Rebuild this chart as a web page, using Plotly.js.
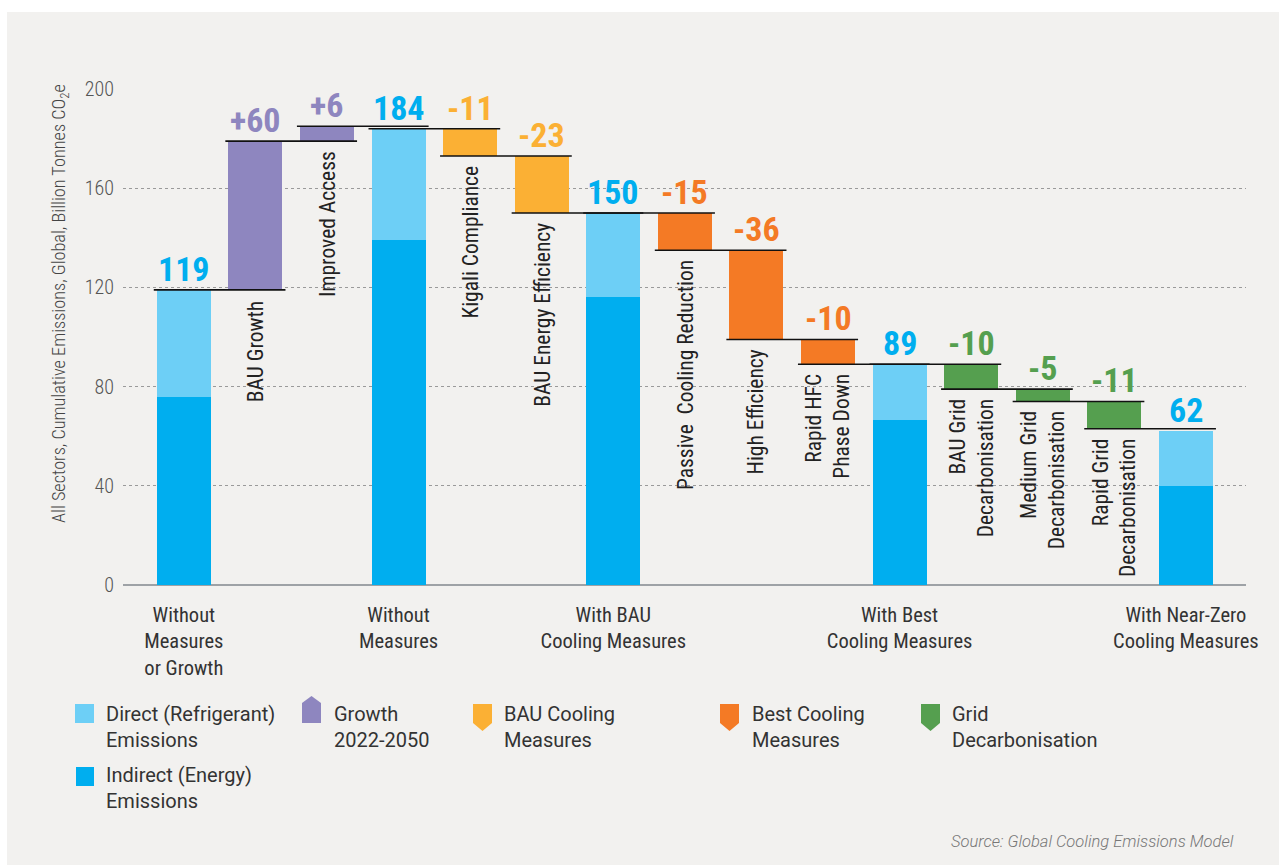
<!DOCTYPE html>
<html>
<head>
<meta charset="utf-8">
<script src="https://cdn.plot.ly/plotly-3.0.1.min.js"></script>
<style>
html,body{margin:0;padding:0;background:#ffffff;}
#chart{width:1279px;height:865px;}
</style>
</head>
<body>
<div id="chart"></div>
<script>
// ---------- DATA ----------
const totalIdx = [0, 3, 6, 10, 14];
const totalLabels = ['Without<br>Measures<br>or Growth', 'Without<br>Measures', 'With BAU<br>Cooling Measures', 'With Best<br>Cooling Measures', 'With Near-Zero<br>Cooling Measures'];
const totalValues = [119, 184, 150, 89, 62];
const indirectValues = [76, 139, 116, 66.5, 40];

const stepIdx = [1, 2, 4, 5, 7, 8, 9, 11, 12, 13];
const stepNames = ['BAU Growth', 'Improved Access', 'Kigali Compliance', 'BAU Energy Efficiency',
  'Passive\u00a0 Cooling Reduction', 'High Efficiency', 'Rapid HFC<br>Phase Down',
  'BAU Grid<br>Decarbonisation', 'Medium Grid<br>Decarbonisation', 'Rapid Grid<br>Decarbonisation'];
const stepValues = [60, 6, -11, -23, -15, -36, -10, -10, -5, -11];
const stepGroups = ['growth', 'growth', 'bau', 'bau', 'best', 'best', 'best', 'grid', 'grid', 'grid'];

const groupKeys = ['growth', 'bau', 'best', 'grid'];
const groupNames = ['Growth<br>2022-2050', 'BAU Cooling<br>Measures', 'Best Cooling<br>Measures', 'Grid<br>Decarbonisation'];
const yTicks = [0, 40, 80, 120, 160, 200];

// ---------- STYLE ----------
const C = {
  direct: '#6DCFF6', indirect: '#00AEEF',
  growth: '#8E86BF', bau: '#FBB034', best: '#F47A25', grid: '#559F4F',
  text: '#333333', bg: '#F2F1EF'
};
const COND = 'Roboto Condensed, Liberation Sans Narrow, Roboto, sans-serif';
const REG = 'Roboto, sans-serif';
const W = 1279, H = 865, ML = 123, MR = 33, MT = 89, MB = 280;
const plotW = W - ML - MR, plotH = H - MT - MB;
const fx = p => (p - ML) / plotW;
const fy = p => (H - MB - p) / plotH;
const BARW = 0.754, LINEHALF = 0.42;

// ---------- compute levels ----------
const nPos = totalIdx.length + stepIdx.length;
const startLvl = [], endLvl = [];
let level = 0;
for (let i = 0; i < nPos; i++) {
  const t = totalIdx.indexOf(i);
  if (t >= 0) { level = totalValues[t]; startLvl[i] = 0; endLvl[i] = level; }
  else {
    const s = stepIdx.indexOf(i);
    startLvl[i] = level; level = level + stepValues[s]; endLvl[i] = level;
  }
}

const traces = [];
traces.push({
  type: 'bar', x: totalIdx, y: indirectValues, base: totalIdx.map(() => 0),
  width: BARW, marker: {color: C.indirect, line: {width: 0}}, hoverinfo: 'skip', showlegend: false
});
traces.push({
  type: 'bar', x: totalIdx, y: totalValues.map((v, k) => v - indirectValues[k]), base: indirectValues,
  width: BARW, marker: {color: C.direct, line: {width: 0}}, hoverinfo: 'skip', showlegend: false
});
groupKeys.forEach(g => {
  const xs = [], ys = [], bs = [];
  stepIdx.forEach((p, k) => {
    if (stepGroups[k] !== g) return;
    xs.push(p); ys.push(Math.abs(stepValues[k])); bs.push(Math.min(startLvl[p], endLvl[p]));
  });
  traces.push({type: 'bar', x: xs, y: ys, base: bs, width: BARW,
    marker: {color: C[g], line: {width: 0}}, hoverinfo: 'skip', showlegend: false});
});
// connectors
const cx = [], cy = [];
for (let i = 0; i < nPos - 1; i++) {
  cx.push(i - LINEHALF, i + 1 + LINEHALF, null);
  cy.push(endLvl[i], endLvl[i], null);
}
traces.push({type: 'scatter', mode: 'lines', x: cx, y: cy, line: {color: '#111', width: 1.6},
  hoverinfo: 'skip', showlegend: false});

const ann = [];
// value labels
totalIdx.forEach((p, k) => {
  ann.push({x: p, y: totalValues[k], xref: 'x', yref: 'y', text: '<b>' + totalValues[k] + '</b>',
    showarrow: false, xanchor: 'center', yanchor: 'bottom', yshift: -1,
    font: {family: COND, size: 34, color: C.indirect}});
});
stepIdx.forEach((p, k) => {
  const v = stepValues[k];
  ann.push({x: p, y: Math.max(startLvl[p], endLvl[p]), xref: 'x', yref: 'y',
    text: '<b>' + (v > 0 ? '+' + v : String(v)) + '</b>',
    showarrow: false, xanchor: 'center', yanchor: 'bottom', yshift: -1,
    font: {family: COND, size: 34, color: C[stepGroups[k]]}});
  ann.push({x: p, y: Math.min(startLvl[p], endLvl[p]), xref: 'x', yref: 'y',
    text: stepNames[k], textangle: -90, align: 'right',
    showarrow: false, xanchor: 'center', yanchor: 'top', yshift: -8,
    font: {family: COND, size: 21.5, color: '#222'}});
});
// y title
ann.push({x: fx(60), y: fy(304), xref: 'paper', yref: 'paper', textangle: -90,
  xanchor: 'center', yanchor: 'middle',
  text: 'All Sectors, Cumulative Emissions, Global, Billion Tonnes CO<sub>2</sub>e',
  showarrow: false, font: {family: COND, size: 18.3, color: '#444', weight: 300}});

// legend
const shapes = [];
shapes.push({type: 'rect', xref: 'paper', yref: 'paper', x0: fx(7), x1: fx(1279), y0: fy(12), y1: fy(865),
  fillcolor: C.bg, line: {width: 0}, layer: 'below'});
const legTxt = (x, y, t) => ann.push({x: fx(x), y: fy(y), xref: 'paper', yref: 'paper', text: t,
  xanchor: 'left', yanchor: 'middle', align: 'left', showarrow: false,
  font: {family: REG, size: 20, color: C.text}});
shapes.push({type: 'rect', xref: 'paper', yref: 'paper', x0: fx(75), x1: fx(94), y0: fy(704), y1: fy(723),
  fillcolor: C.direct, line: {width: 0}});
legTxt(104, 727, 'Direct (Refrigerant)<br>Emissions');
shapes.push({type: 'rect', xref: 'paper', yref: 'paper', x0: fx(76), x1: fx(94), y0: fy(767), y1: fy(786),
  fillcolor: C.indirect, line: {width: 0}});
legTxt(104, 788, 'Indirect (Energy)<br>Emissions');
const legX = [302, 473, 720, 921];
const txtX = [332, 502, 750, 950];
groupKeys.forEach((g, k) => {
  const x0 = legX[k], x1 = x0 + 19, xm = (x0 + x1) / 2;
  let d;
  if (g === 'growth') {
    d = `M${fx(x0)},${fy(723)} L${fx(x0)},${fy(703)} L${fx(xm)},${fy(696)} L${fx(x1)},${fy(703)} L${fx(x1)},${fy(723)} Z`;
  } else {
    d = `M${fx(x0)},${fy(704)} L${fx(x1)},${fy(704)} L${fx(x1)},${fy(723)} L${fx(xm)},${fy(731)} L${fx(x0)},${fy(723)} Z`;
  }
  shapes.push({type: 'path', xref: 'paper', yref: 'paper', path: d, fillcolor: C[g], line: {width: 0}});
  legTxt(txtX[k], 727, groupNames[k]);
});
// source
ann.push({x: fx(1236), y: fy(841), xref: 'paper', yref: 'paper', xanchor: 'right', yanchor: 'middle',
  text: '<i>Source: Global Cooling Emissions Model</i>', showarrow: false,
  font: {family: REG, size: 16.5, color: '#777', weight: 300}});

const layout = {
  width: W, height: H,
  margin: {l: ML, r: MR, t: MT, b: MB, pad: 0},
  paper_bgcolor: '#ffffff', plot_bgcolor: 'rgba(0,0,0,0)',
  barmode: 'overlay', bargap: 0,
  showlegend: false,
  xaxis: {
    range: [-0.85, nPos - 1 + 0.84], tickmode: 'array', tickvals: totalIdx, ticktext: totalLabels,
    showgrid: false, zeroline: false, showline: false, ticks: '', ticklabelstandoff: 15,
    tickfont: {family: COND, size: 20.5, color: C.text}, fixedrange: true
  },
  yaxis: {
    range: [0, 200], tickmode: 'array', tickvals: yTicks, showgrid: true, gridcolor: '#9a9a9a',
    griddash: 'dot', gridwidth: 1, zeroline: true, zerolinecolor: '#9ea2a6', zerolinewidth: 2,
    showline: false, ticks: '', ticklabelstandoff: 8,
    tickfont: {family: COND, size: 20, color: '#555', weight: 300}, fixedrange: true
  },
  annotations: ann, shapes: shapes
};
Plotly.newPlot('chart', traces, layout, {displayModeBar: false, staticPlot: true});
</script>
</body>
</html>
